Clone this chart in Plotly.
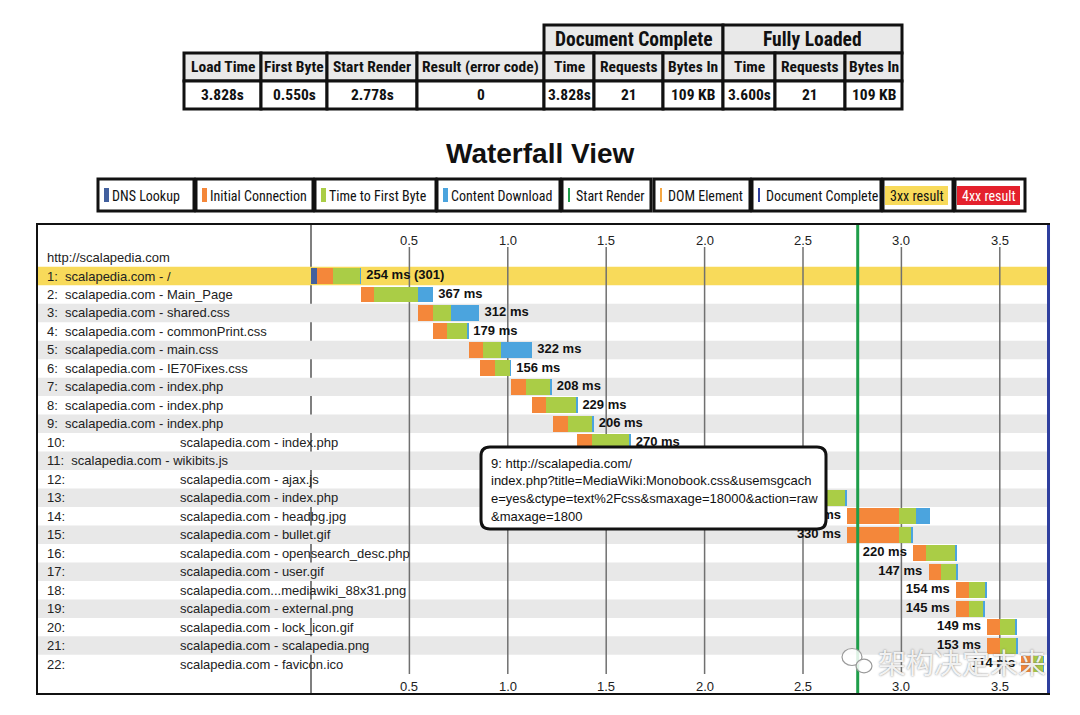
import plotly.graph_objects as go

# ---- summary table -------------------------------------------------------
table_headers = ["Load Time", "First Byte", "Start Render", "Result (error code)",
                 "Time", "Requests", "Bytes In", "Time", "Requests", "Bytes In"]
table_values = ["3.828s", "0.550s", "2.778s", "0",
                "3.828s", "21", "109 KB", "3.600s", "21", "109 KB"]
table_groups = ["Document Complete", "Fully Loaded"]

# ---- waterfall legend ----------------------------------------------------
legend_labels = ["DNS Lookup", "Initial Connection", "Time to First Byte", "Content Download",
                 "Start Render", "DOM Element", "Document Complete", "3xx result", "4xx result"]
legend_colors = ["#42609e", "#f4873a", "#aacd46", "#4ba4de",
                 "#1f9e4a", "#f5a742", "#2f3f9e", "#f8da5a", "#e4202c"]

# ---- waterfall requests (times in seconds) ------------------------------
page_url = "http://scalapedia.com"
row_names = ["scalapedia.com - /", "scalapedia.com - Main_Page", "scalapedia.com - shared.css",
             "scalapedia.com - commonPrint.css", "scalapedia.com - main.css",
             "scalapedia.com - IE70Fixes.css", "scalapedia.com - index.php",
             "scalapedia.com - index.php", "scalapedia.com - index.php",
             "scalapedia.com - index.php", "scalapedia.com - wikibits.js",
             "scalapedia.com - ajax.js", "scalapedia.com - index.php",
             "scalapedia.com - headbg.jpg", "scalapedia.com - bullet.gif",
             "scalapedia.com - opensearch_desc.php", "scalapedia.com - user.gif",
             "scalapedia.com...mediawiki_88x31.png", "scalapedia.com - external.png",
             "scalapedia.com - lock_icon.gif", "scalapedia.com - scalapedia.png",
             "scalapedia.com - favicon.ico"]
req_start = [0.000, 0.253, 0.543, 0.619, 0.801, 0.860, 1.014, 1.123, 1.229, 1.353, 1.436,
             1.625, 2.450, 2.725, 2.725, 3.060, 3.138, 3.278, 3.278, 3.437, 3.437, 3.610]
dns_time = [0.031, 0, 0, 0, 0, 0, 0, 0, 0, 0, 0, 0, 0, 0, 0, 0, 0, 0, 0, 0, 0, 0]
connect_time = [0.080, 0.065, 0.076, 0.073, 0.072, 0.073, 0.077, 0.073, 0.077, 0.075, 0.075,
                0.072, 0.072, 0.262, 0.262, 0.065, 0.063, 0.065, 0.065, 0.063, 0.063, 0.055]
ttfb_time = [0.139, 0.227, 0.094, 0.101, 0.094, 0.079, 0.127, 0.152, 0.125, 0.190, 0.180,
             0.150, 0.196, 0.085, 0.064, 0.150, 0.080, 0.085, 0.076, 0.082, 0.086, 0.055]
download_time = [0.004, 0.075, 0.142, 0.005, 0.156, 0.004, 0.004, 0.004, 0.004, 0.005, 0.030,
                 0.020, 0.004, 0.071, 0.004, 0.005, 0.004, 0.004, 0.004, 0.004, 0.004, 0.004]
duration_labels = ["254 ms (301)", "367 ms", "312 ms", "179 ms", "322 ms", "156 ms", "208 ms",
                   "229 ms", "206 ms", "270 ms", "285 ms", "242 ms", "272 ms", "418 ms",
                   "330 ms", "220 ms", "147 ms", "154 ms", "145 ms", "149 ms", "153 ms", "114 ms"]
redirect_rows = [1]
start_render = 2.778
doc_complete = 3.828
time_ticks = [0.5, 1.0, 1.5, 2.0, 2.5, 3.0, 3.5]

tooltip_lines = ["9: http://scalapedia.com/",
                 "index.php?title=MediaWiki:Monobook.css&usemsgcach",
                 "e=yes&ctype=text%2Fcss&smaxage=18000&action=raw",
                 "&maxage=1800"]
watermark = "架构决定未来"

# ---- layout geometry (pixels) -------------------------------------------
W, H = 1080, 715
PL, PR, PT, PB = 38, 1048, 225, 693
ZERO_PX, SEC_PX = 311, 196.8
ROW1_PX, ROW_PX = 276, 18.48
X_MIN, X_MAX = (PL - ZERO_PX) / SEC_PX, (PR - ZERO_PX) / SEC_PX
Y_TOP, Y_BOT = 1 + (PT - ROW1_PX) / ROW_PX, 1 + (PB - ROW1_PX) / ROW_PX
NARROW = "Liberation Sans Narrow, Arial Narrow, Roboto Condensed, Roboto, sans-serif"
SANS = "Liberation Sans, Arial, Helvetica, sans-serif"


def px(x):
    return (x - PL) / (PR - PL)


def py(y):
    return (PB - y) / (PB - PT)


def sx(t):
    # axis x value for a pixel column
    return (t - ZERO_PX) / SEC_PX


def sy(t):
    # axis y value (row units) for a pixel row
    return 1 + (t - ROW1_PX) / ROW_PX


def note(x, y, text, ref="paper", xanchor="center", **font):
    f = dict(family=SANS, size=13, color="#111")
    f.update(font)
    return dict(x=x, y=y, xref=ref if ref == "paper" else "x", yref=ref if ref == "paper" else "y",
                text=text, showarrow=False, xanchor=xanchor, yanchor="middle", font=f)


rows = list(range(1, len(row_names) + 1))
fig = go.Figure()
shapes, annotations = [], []

# row stripes
for r in rows:
    color = None
    if r in redirect_rows:
        color = legend_colors[7]
    elif r % 2 == 1:
        color = "#e8e8e8"
    if color:
        shapes.append(dict(type="rect", xref="x", yref="y", x0=X_MIN, x1=X_MAX,
                           y0=r - 0.5, y1=r + 0.5, fillcolor=color, line_width=0, layer="below"))

# vertical time grid (the zero line runs the full height)
shapes.append(dict(type="line", xref="x", yref="paper", x0=0, x1=0, y0=0, y1=1,
                   line=dict(color="#555", width=1.5), layer="below"))
for t in time_ticks:
    shapes.append(dict(type="line", xref="x", yref="y", x0=t, x1=t, y0=sy(247), y1=sy(674),
                       line=dict(color="#707070", width=1.5), layer="below"))

# stacked request bars
base = list(req_start)
for name, vals, col in zip(legend_labels[:4], [dns_time, connect_time, ttfb_time, download_time],
                           legend_colors[:4]):
    fig.add_trace(go.Bar(y=rows, x=vals, base=base, orientation="h", width=0.86, name=name,
                         marker=dict(color=col, line_width=0), showlegend=False))
    base = [b + v for b, v in zip(base, vals)]
req_end = base

# duration labels (right of bar, or left when the bar is late in the page)
right = [i for i in range(len(rows)) if req_start[i] < 2.4]
left = [i for i in range(len(rows)) if req_start[i] >= 2.4]
fig.add_trace(go.Scatter(x=[req_end[i] + 0.027 for i in right], y=[rows[i] for i in right],
                         text=[duration_labels[i] for i in right], mode="text",
                         textposition="middle right", showlegend=False,
                         textfont=dict(family=SANS, size=13, color="#111", weight="bold")))
fig.add_trace(go.Scatter(x=[req_start[i] - 0.032 for i in left], y=[rows[i] for i in left],
                         text=[duration_labels[i] for i in left], mode="text",
                         textposition="middle left", showlegend=False,
                         textfont=dict(family=SANS, size=13, color="#111", weight="bold")))

# row labels
annotations.append(note(sx(45), 0, page_url, ref="data", xanchor="left", color="#222"))
for r, name in zip(rows, row_names):
    if r == 10 or r >= 12:
        annotations.append(note(sx(45), r, f"{r}:", ref="data", xanchor="left", color="#222"))
        annotations.append(note(sx(178), r, name, ref="data", xanchor="left", color="#222"))
    else:
        annotations.append(note(sx(45), r, f"{r}:  {name}", ref="data", xanchor="left",
                                color="#222"))

# time tick labels, top and bottom
for t in time_ticks:
    for yy in (sy(240), sy(686)):
        annotations.append(note(t, yy, f"{t:.1f}", ref="data", color="#222"))

# start render + document complete lines
shapes.append(dict(type="line", xref="x", yref="paper", x0=start_render, x1=start_render,
                   y0=0, y1=1, line=dict(color=legend_colors[4], width=3), layer="above"))
shapes.append(dict(type="line", xref="paper", yref="paper", x0=1.0005, x1=1.0005,
                   y0=0, y1=1, line=dict(color=legend_colors[6], width=3), layer="above"))

# tooltip box
x0, x1, yt, yb = px(481), px(826), py(447), py(529)
rx, ry = 9 / (PR - PL), 9 / (PB - PT)
path = (f"M {x0 + rx},{yt} L {x1 - rx},{yt} Q {x1},{yt} {x1},{yt - ry} L {x1},{yb + ry} "
        f"Q {x1},{yb} {x1 - rx},{yb} L {x0 + rx},{yb} Q {x0},{yb} {x0},{yb + ry} "
        f"L {x0},{yt - ry} Q {x0},{yt} {x0 + rx},{yt} Z")
shapes.append(dict(type="path", xref="paper", yref="paper", path=path, fillcolor="white",
                   line=dict(color="#111", width=3), layer="above"))
for i, line in enumerate(tooltip_lines):
    annotations.append(note(px(489), py(463 + i * 17.8), line, xanchor="left"))

# ---- summary table (drawn as cells above the panel) ----------------------
tbl_x = [184, 261, 327, 417, 544, 594, 663, 723, 775, 845, 902]
tbl_y = [25, 53, 81, 109]
group_cols = [(4, 7), (7, 10)]
for (c0, c1), label in zip(group_cols, table_groups):
    shapes.append(dict(type="rect", xref="paper", yref="paper", x0=px(tbl_x[c0]), x1=px(tbl_x[c1]),
                       y0=py(tbl_y[0]), y1=py(tbl_y[1]), fillcolor="#e9e9e9",
                       line=dict(color="#111", width=3)))
    annotations.append(note(px((tbl_x[c0] + tbl_x[c1]) / 2), py((tbl_y[0] + tbl_y[1]) / 2),
                            label, family=NARROW, size=19.5, weight="bold"))
for c, (hdr, val) in enumerate(zip(table_headers, table_values)):
    for r, (txt, fill) in enumerate([(hdr, "#e9e9e9"), (val, "white")], start=1):
        shapes.append(dict(type="rect", xref="paper", yref="paper", x0=px(tbl_x[c]),
                           x1=px(tbl_x[c + 1]), y0=py(tbl_y[r]), y1=py(tbl_y[r + 1]),
                           fillcolor=fill, line=dict(color="#111", width=3)))
        annotations.append(note(px((tbl_x[c] + tbl_x[c + 1]) / 2),
                                py((tbl_y[r] + tbl_y[r + 1]) / 2), txt,
                                family=NARROW, size=15.5, weight="bold"))

# ---- title ---------------------------------------------------------------
annotations.append(note(px(540), py(153), "Waterfall View", size=28, weight="bold"))

# ---- legend strip --------------------------------------------------------
leg_cells = [(98, 194), (196, 313), (315, 436), (437, 560), (562, 651), (654, 750),
             (752, 881), (883, 953), (955, 1025)]
ly0, ly1 = 179, 211
for i, ((a, b), label, col) in enumerate(zip(leg_cells, legend_labels, legend_colors)):
    shapes.append(dict(type="rect", xref="paper", yref="paper", x0=px(a), x1=px(b),
                       y0=py(ly0), y1=py(ly1), fillcolor="white",
                       line=dict(color="#111", width=3)))
    if i < 7:
        mw = 5 if i < 4 else 2
        shapes.append(dict(type="rect", xref="paper", yref="paper", x0=px(a + 6), x1=px(a + 6 + mw),
                           y0=py(188), y1=py(202), fillcolor=col, line_width=0))
        annotations.append(note(px(a + 12), py(195.5), label, xanchor="left",
                                family=NARROW, size=14))
    else:
        shapes.append(dict(type="rect", xref="paper", yref="paper", x0=px(a + 2), x1=px(b - 5),
                           y0=py(186), y1=py(205), fillcolor=col, line_width=0))
        annotations.append(note(px((a + b - 3) / 2), py(195.5), label, family=NARROW, size=14,
                                color="#111" if i == 7 else "white"))

# ---- watermark (wechat-style bubbles + text) -----------------------------
for cx, cy, rr in [(852, 657, 10), (864, 666, 8)]:
    shapes.append(dict(type="circle", xref="paper", yref="paper", x0=px(cx - rr), x1=px(cx + rr),
                       y0=py(cy + rr * 0.85), y1=py(cy - rr * 0.85),
                       fillcolor="rgba(255,255,255,0.85)", line=dict(color="#9a9a9a", width=1.2),
                       layer="above"))
annotations.append(note(px(962), py(662), watermark, family="Noto Sans CJK SC", size=28,
                        color="rgba(255,255,255,0.9)", shadow="0px 0px 2px #666"))

fig.update_layout(
    width=W, height=H,
    margin=dict(l=PL, r=W - PR, t=PT, b=H - PB, pad=0),
    paper_bgcolor="white", plot_bgcolor="white",
    barmode="overlay", bargap=0,
    shapes=shapes, annotations=annotations,
    xaxis=dict(range=[X_MIN, X_MAX], showticklabels=False, showgrid=False, zeroline=False,
               showline=True, mirror=True, linecolor="#111", linewidth=2, ticks=""),
    yaxis=dict(range=[Y_BOT, Y_TOP], showticklabels=False, showgrid=False, zeroline=False,
               showline=True, mirror=True, linecolor="#111", linewidth=2, ticks=""),
)

fig.write_html("out.html", config={"displayModeBar": False},
               post_script="document.body.style.margin = '0';")
